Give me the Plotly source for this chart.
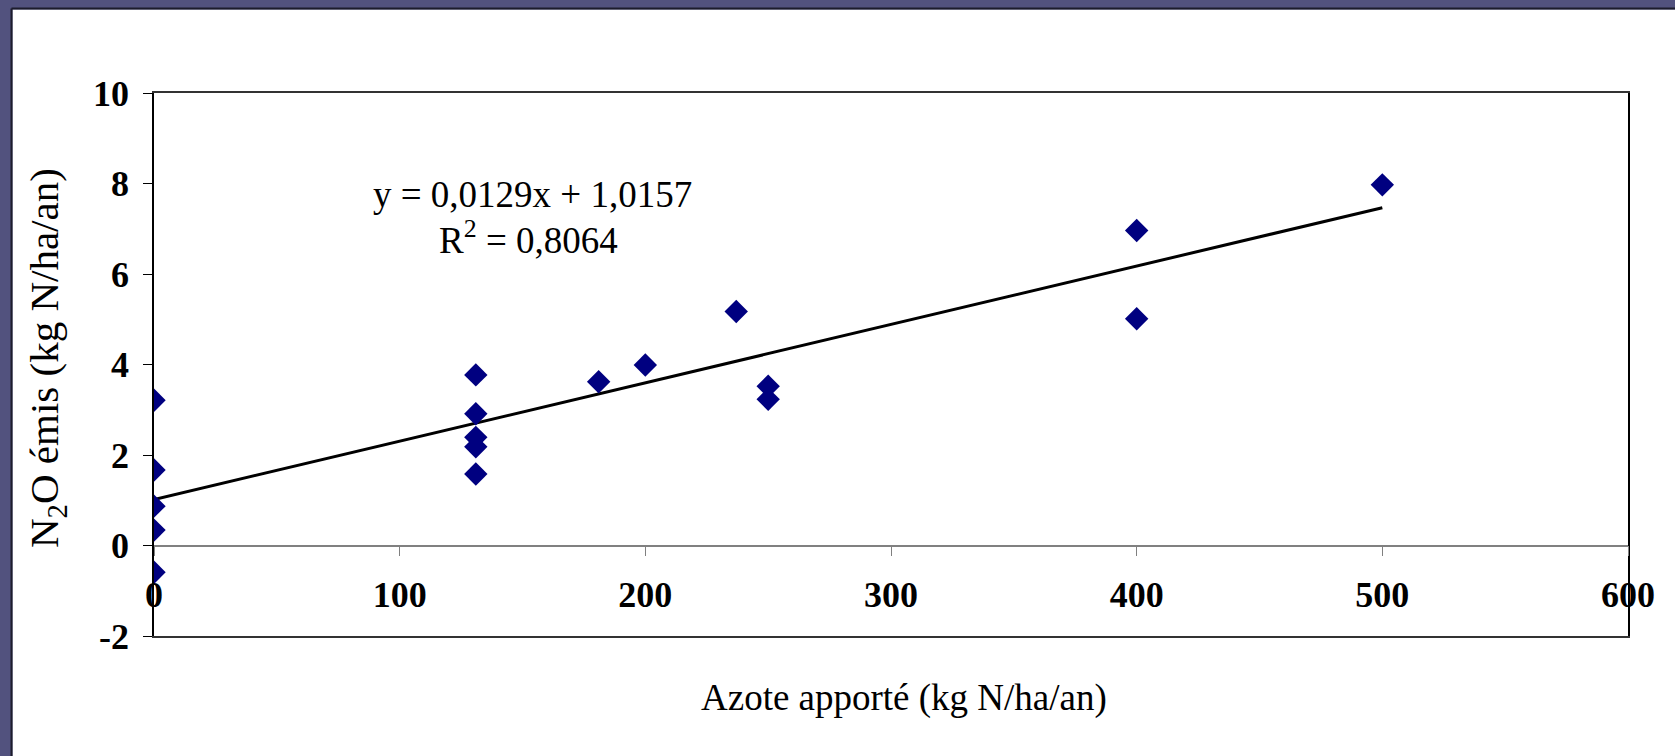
import plotly.graph_objects as go

# ---- data ----
n_apport = [0, 0, 0, 0, 0, 131, 131, 131, 131, 131, 181, 200, 237, 250, 250, 400, 400, 500]
n2o_emis = [3.21, 1.67, 0.87, 0.34, -0.59, 3.77, 2.91, 2.39, 2.18, 1.58,
            3.62, 3.99, 5.17, 3.52, 3.23, 6.96, 5.01, 7.97]
trend_slope = 0.0129
trend_intercept = 1.0157
trend_x = [0, 500]
trend_y = [trend_slope * v + trend_intercept for v in trend_x]

x_ticks = [0, 100, 200, 300, 400, 500, 600]
y_ticks = [-2, 0, 2, 4, 6, 8, 10]

eq_text = "y = 0,0129x + 1,0157"
r2_text = "R<sup>2</sup> = 0,8064"
x_title = "Azote apporté (kg N/ha/an)"
y_title = "N<sub>2</sub>O émis (kg N/ha/an)"

# ---- layout geometry (pixels) ----
W, H = 1675, 756
L, R, T, B = 154, 47, 93, 120
PW, PH = W - L - R, H - T - B


def px(xp):
    return (xp - L) / PW


def py(yp):
    return (H - B - yp) / PH


SERIF = "Liberation Serif, Times New Roman, serif"
PURPLE = "#52527e"

fig = go.Figure()
fig.add_trace(go.Scatter(
    x=trend_x, y=trend_y, mode="lines", xaxis="x", yaxis="y",
    line=dict(color="black", width=3), showlegend=False, hoverinfo="skip"))
fig.add_trace(go.Scatter(
    x=n_apport, y=n2o_emis, mode="markers", xaxis="x2", yaxis="y",
    marker=dict(symbol="diamond", size=18, color="#000080", line=dict(width=0)),
    showlegend=False))

fig.update_layout(
    width=W, height=H,
    margin=dict(l=L, r=R, t=T, b=B),
    paper_bgcolor=PURPLE, plot_bgcolor="white",
    font=dict(family=SERIF, color="black"),
    xaxis=dict(range=[0, 600], showline=True, mirror=True, linecolor="#333333",
               linewidth=1.5, ticks="", showticklabels=False, showgrid=False,
               zeroline=False),
    xaxis2=dict(range=[0, 600], overlaying="x", anchor="free",
                position=(0 - (-2)) / 12,
                side="bottom", showline=True, linecolor="#808080", linewidth=1.5,
                ticks="outside", ticklen=10, tickcolor="#808080",
                tickvals=x_ticks, ticktext=[str(v) for v in x_ticks],
                tickfont=dict(family=SERIF, size=36, color="black", weight="bold"),
                ticklabelstandoff=8, showgrid=False, zeroline=False),
    yaxis=dict(range=[-2, 10], showline=True, mirror=True, linecolor="black",
               linewidth=1.5, ticks="outside", ticklen=9, tickcolor="black",
               tickvals=y_ticks, ticktext=[str(v) for v in y_ticks],
               tickfont=dict(family=SERIF, size=36, color="black", weight="bold"),
               ticklabelstandoff=7, showgrid=False, zeroline=False),
)

annotations = [
    dict(text=eq_text, x=px(532), y=py(194), xref="paper", yref="paper",
         showarrow=False, xanchor="center", yanchor="middle",
         font=dict(family=SERIF, size=37, color="black")),
    dict(text=r2_text, x=px(528), y=py(237), xref="paper", yref="paper",
         showarrow=False, xanchor="center", yanchor="middle",
         font=dict(family=SERIF, size=37, color="black")),
    dict(text=x_title, x=px(904), y=py(698), xref="paper", yref="paper",
         showarrow=False, xanchor="center", yanchor="middle",
         font=dict(family=SERIF, size=37, color="black")),
    dict(text=y_title, x=px(47), y=py(358), xref="paper", yref="paper",
         showarrow=False, xanchor="center", yanchor="middle", textangle=-90,
         font=dict(family=SERIF, size=41, color="black")),
]
fig.update_layout(annotations=annotations)

shapes = [
    # white slide area inside the purple frame (frame only on left and top)
    dict(type="rect", xref="paper", yref="paper", x0=px(12.5), x1=px(W + 40),
         y0=py(H + 40), y1=py(9.5), fillcolor="white", line=dict(width=0), layer="below"),
    dict(type="line", xref="paper", yref="paper", x0=px(11.5), x1=px(11.5),
         y0=py(H + 40), y1=py(8.5), line=dict(color="#1c1c2c", width=2), layer="below"),
    dict(type="line", xref="paper", yref="paper", x0=px(11.5), x1=px(W + 40),
         y0=py(8.5), y1=py(8.5), line=dict(color="#1c1c2c", width=2), layer="below"),
]
fig.update_layout(shapes=shapes)

fig.write_html("out.html")
